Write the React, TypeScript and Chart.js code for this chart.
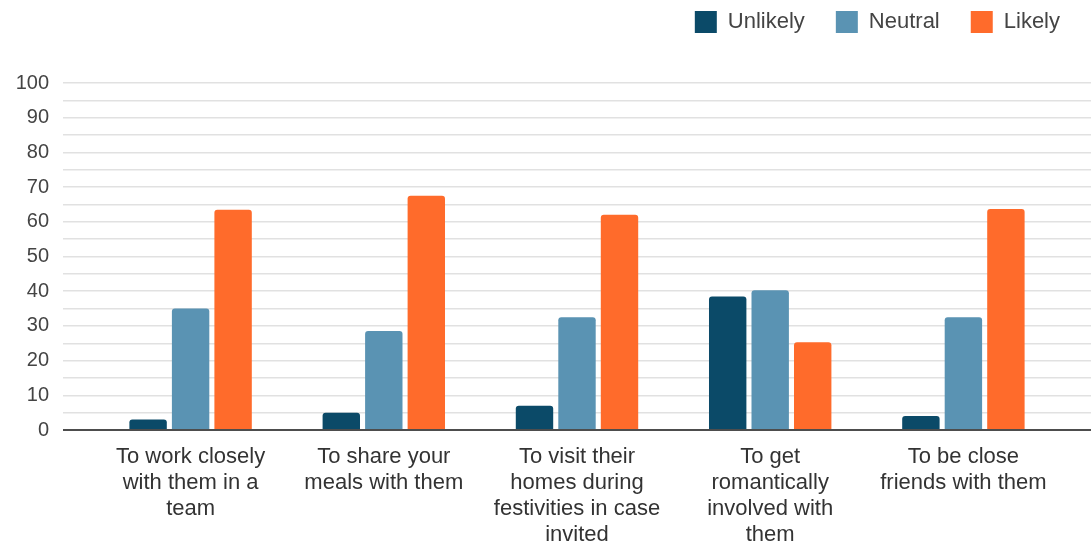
import React, { useEffect, useRef } from 'react';
import { Chart, registerables } from 'chart.js';

Chart.register(...registerables);

const categories: string[][] = [
  ['To work closely', 'with them in a', 'team'],
  ['To share your', 'meals with them'],
  ['To visit their', 'homes during', 'festivities in case', 'invited'],
  ['To get', 'romantically', 'involved with', 'them'],
  ['To be close', 'friends with them'],
];
const seriesNames = ['Unlikely', 'Neutral', 'Likely'];
const unlikelyValues = [3, 5, 7, 38.5, 4];
const neutralValues = [35, 28.5, 32.5, 40.3, 32.5];
const likelyValues = [63.5, 67.5, 62, 25.3, 63.7];
const seriesColors = ['#0b4a68', '#5a93b3', '#ff6b2b'];
const yMin = 0;
const yMax = 100;
const yStep = 5;
const yLabelStep = 10;

const FONT = '"Liberation Sans", Arial, sans-serif';

const gridColor = (ctx: any) => (ctx.tick && ctx.tick.value === 0 ? '#4d4d4d' : '#e1e1e1');
const gridWidth = (ctx: any) => (ctx.tick && ctx.tick.value === 0 ? 2 : 1.5);

const legendSpacer = {
  id: 'legendSpacer',
  beforeInit(chart: any) {
    const legend = chart.legend;
    if (!legend) return;
    const fit = legend.fit;
    legend.fit = function () {
      fit.call(this);
      this.height += 40;
    };
  },
};

export default function App() {
  const canvasRef = useRef<HTMLCanvasElement | null>(null);

  useEffect(() => {
    document.body.style.margin = '0';
    const canvas = canvasRef.current;
    if (!canvas) return;
    Chart.defaults.font.family = FONT;
    const seriesValues = [unlikelyValues, neutralValues, likelyValues];
    const chart = new Chart(canvas, {
      type: 'bar',
      data: {
        labels: categories,
        datasets: seriesNames.map((name, i) => ({
          label: name,
          data: seriesValues[i],
          backgroundColor: seriesColors[i],
          borderWidth: 0,
          borderRadius: 3,
          categoryPercentage: 0.66,
          barPercentage: 0.88,
          yAxisID: 'y',
        })),
      },
      options: {
        responsive: false,
        animation: false,
        layout: { padding: { top: -20, bottom: 2, left: 0, right: 0 } },
        plugins: {
          title: { display: false },
          tooltip: { enabled: false },
          legend: {
            display: true,
            position: 'top',
            align: 'end',
            labels: {
              boxWidth: 22,
              boxHeight: 22,
              padding: 31,
              color: '#444',
              font: { size: 22, family: FONT },
            },
          },
        },
        scales: {
          x: {
            afterFit: (s: any) => {
              s.height = 116;
            },
            grid: { display: false, drawTicks: false },
            border: { display: false },
            ticks: {
              color: '#333',
              font: { size: 22, family: FONT, lineHeight: '26px' },
              padding: 14,
              maxRotation: 0,
              minRotation: 0,
              autoSkip: false,
            },
          },
          y: {
            position: 'left',
            min: yMin,
            max: yMax,
            afterFit: (s: any) => {
              s.width = 94;
            },
            ticks: {
              stepSize: yStep,
              autoSkip: false,
              padding: 14,
              color: '#444',
              font: { size: 20, family: FONT },
              callback: (v: any) => (Number(v) % yLabelStep === 0 ? String(v) : ''),
            },
            grid: {
              color: gridColor,
              lineWidth: gridWidth,
              drawTicks: true,
              tickLength: 31,
            },
            border: { display: false },
          },
          y2: {
            position: 'right',
            min: yMin,
            max: yMax,
            afterFit: (s: any) => {
              s.width = 31;
            },
            ticks: { display: false, stepSize: yStep, autoSkip: false },
            grid: {
              color: gridColor,
              lineWidth: gridWidth,
              drawOnChartArea: false,
              drawTicks: true,
              tickLength: 31,
            },
            border: { display: false },
          },
        },
      },
      plugins: [legendSpacer],
    } as any);
    return () => chart.destroy();
  }, []);

  return (
    <div style={{ width: 1091, height: 548, background: '#fff' }}>
      <canvas ref={canvasRef} width={1091} height={548} />
    </div>
  );
}
